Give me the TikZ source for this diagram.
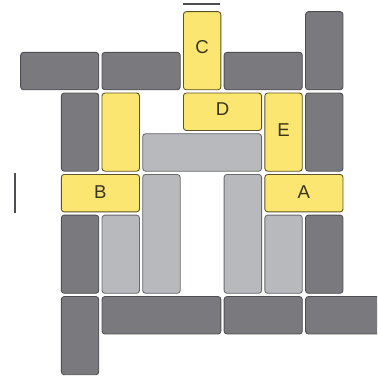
\documentclass[tikz,border=0pt]{standalone}
\usepackage{fontspec}
\setsansfont{Liberation Sans}
\definecolor{darkfill}{RGB}{122,122,126}
\definecolor{darkline}{RGB}{78,78,82}
\definecolor{lightfill}{RGB}{183,185,189}
\definecolor{lightline}{RGB}{105,105,110}
\definecolor{yelfill}{RGB}{250,230,112}
\definecolor{yelline}{RGB}{92,82,36}
\definecolor{lettercol}{RGB}{58,52,22}

\begin{document}
\begin{tikzpicture}[x=1cm,y=-1cm,line width=.6pt,
  darkblk/.style={draw=darkline,fill=darkfill,rounded corners=2pt},
  lightblk/.style={draw=lightline,fill=lightfill,rounded corners=2pt},
  yelblk/.style={draw=yelline,fill=yelfill,rounded corners=2pt},
  letter/.style={font=\sffamily\fontsize{13}{15}\selectfont,text=lettercol,inner sep=0pt}]
\useasboundingbox (-0.467,-0.246) rectangle (8.796,9.066);
\clip (-0.467,-0.246) rectangle (8.796,9.066);
% dark blocks
\draw[darkblk] (0.04,1.04) rectangle (1.96,1.96);
\draw[darkblk] (2.04,1.04) rectangle (3.96,1.96);
\draw[darkblk] (5.04,1.04) rectangle (6.96,1.96);
\draw[darkblk] (7.04,0.04) rectangle (7.96,1.96);
\draw[darkblk] (1.04,2.04) rectangle (1.96,3.96);
\draw[darkblk] (7.04,2.04) rectangle (7.96,3.96);
\draw[darkblk] (1.04,5.04) rectangle (1.96,6.96);
\draw[darkblk] (7.04,5.04) rectangle (7.96,6.96);
\draw[darkblk] (1.04,7.04) rectangle (1.96,8.96);
\draw[darkblk] (2.04,7.04) rectangle (4.96,7.96);
\draw[darkblk] (5.04,7.04) rectangle (6.96,7.96);
\draw[darkblk] (7.04,7.04) rectangle (9.50,7.96);
% light blocks
\draw[lightblk] (3.04,3.04) rectangle (5.96,3.96);
\draw[lightblk] (3.04,4.04) rectangle (3.96,6.96);
\draw[lightblk] (5.04,4.04) rectangle (5.96,6.96);
\draw[lightblk] (2.04,5.04) rectangle (2.96,6.96);
\draw[lightblk] (6.04,5.04) rectangle (6.96,6.96);
% yellow blocks
\draw[yelblk] (4.04,0.04) rectangle (4.96,1.96);
\draw[yelblk] (4.04,2.04) rectangle (5.96,2.96);
\draw[yelblk] (6.04,2.04) rectangle (6.96,3.96);
\draw[yelblk] (2.04,2.04) rectangle (2.96,3.96);
\draw[yelblk] (1.04,4.04) rectangle (2.96,4.96);
\draw[yelblk] (6.04,4.04) rectangle (7.96,4.96);
% loose strokes
\draw[darkline,line width=1pt] (4.02,-0.15)--(4.94,-0.15);
\draw[darkline,line width=1.3pt] (-0.10,4.00)--(-0.10,4.98);
% labels
\node[letter] (C) at (4.50,0.92) {C};
\node[letter] (D) at (5.00,2.44) {D};
\node[letter] (E) at (6.50,2.96) {E};
\node[letter] (B) at (2.00,4.48) {B};
\node[letter] (A) at (7.00,4.48) {A};
\end{tikzpicture}
\end{document}
